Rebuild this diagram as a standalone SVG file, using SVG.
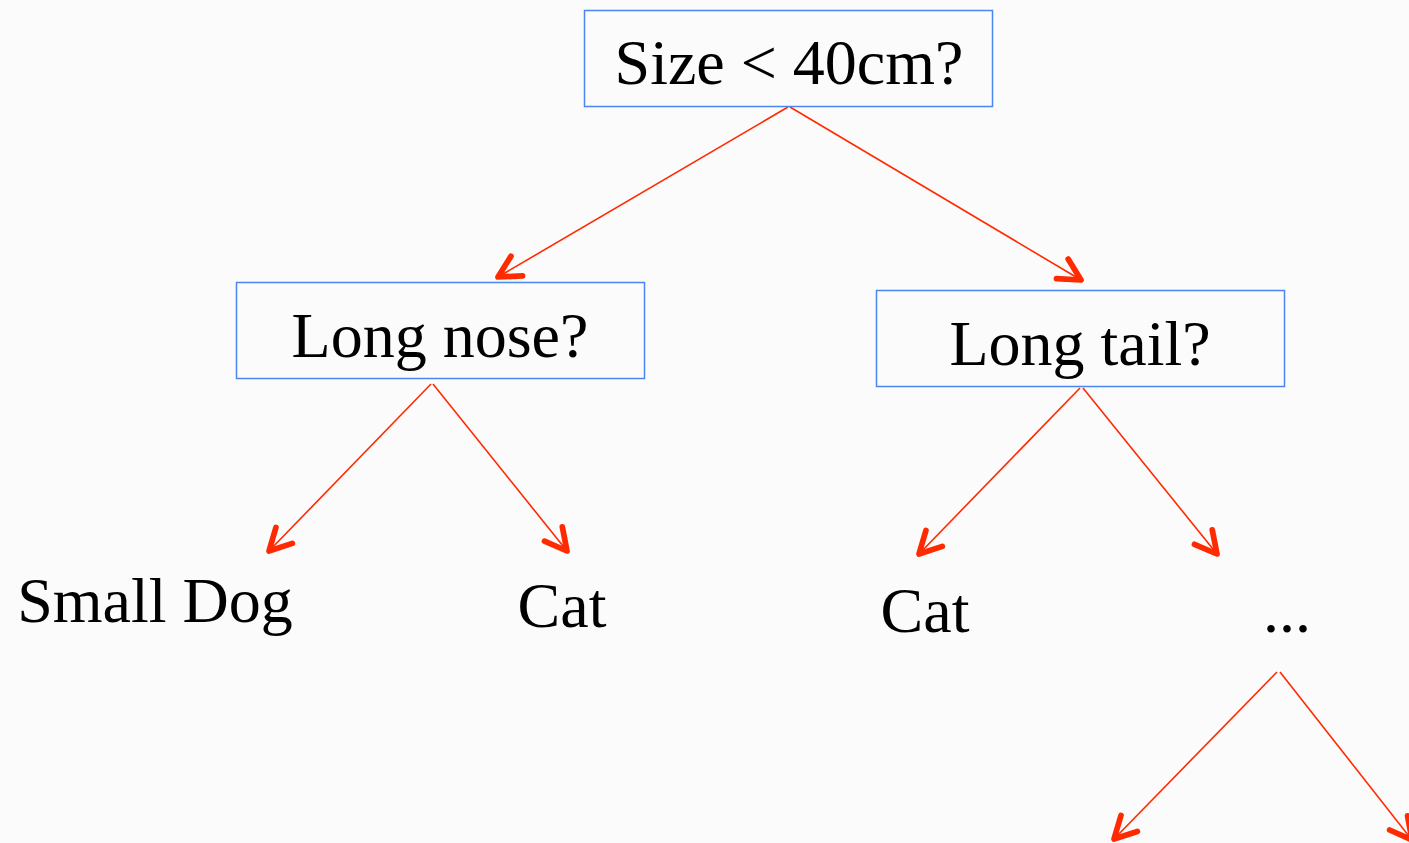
<svg xmlns="http://www.w3.org/2000/svg" width="1409" height="843" viewBox="0 0 1409 843">
  <style>
    .box { fill: none; stroke: #4a86f0; stroke-width: 1.5; }
    .lbl { font-family: "Liberation Serif", "Times New Roman", serif; font-size: 64px; fill: #000; text-anchor: middle; }
    .edge { stroke: #ff2a00; stroke-width: 1.6; fill: none; marker-end: url(#head); }
  </style>
  <defs>
    <!-- open V arrowhead with heavy rounded strokes -->
    <marker id="head" markerUnits="userSpaceOnUse" markerWidth="32" markerHeight="32" viewBox="-24 -14 28 28" refX="0" refY="0" orient="auto">
      <path d="M-19,-10 L0,0 L-19,10" fill="none" stroke="#ff2a00" stroke-width="5" stroke-linecap="round" stroke-linejoin="round"/>
    </marker>
  </defs>
  <rect width="1409" height="843" fill="#fbfbfb"/>

  <g id="connectors">
    <line class="edge" x1="788" y1="107" x2="498" y2="277"/>
    <line class="edge" x1="790" y1="107" x2="1081" y2="280"/>
    <line class="edge" x1="431" y1="384" x2="269" y2="551"/>
    <line class="edge" x1="433" y1="384" x2="567" y2="551"/>
    <line class="edge" x1="1080" y1="388" x2="919" y2="554"/>
    <line class="edge" x1="1083" y1="388" x2="1217" y2="554"/>
    <line class="edge" x1="1277" y1="672" x2="1114" y2="839"/>
    <line class="edge" x1="1280" y1="672" x2="1412" y2="840"/>
  </g>

  <g id="size">
    <rect class="box" x="584.5" y="10.5" width="408" height="96"/>
    <text class="lbl" x="789" y="84">Size &lt; 40cm?</text>
  </g>
  <g id="long-nose">
    <rect class="box" x="236.5" y="282.5" width="408" height="96"/>
    <text class="lbl" x="440" y="357">Long nose?</text>
  </g>
  <g id="long-tail">
    <rect class="box" x="876.5" y="290.5" width="408" height="96"/>
    <text class="lbl" x="1080" y="365">Long tail?</text>
  </g>
  <g id="small-dog">
    <text class="lbl" x="155" y="622">Small Dog</text>
  </g>
  <g id="cat-left">
    <text class="lbl" x="562" y="627">Cat</text>
  </g>
  <g id="cat-right">
    <text class="lbl" x="925" y="632">Cat</text>
  </g>
  <g id="more">
    <text class="lbl" x="1287" y="632">...</text>
  </g>
</svg>
